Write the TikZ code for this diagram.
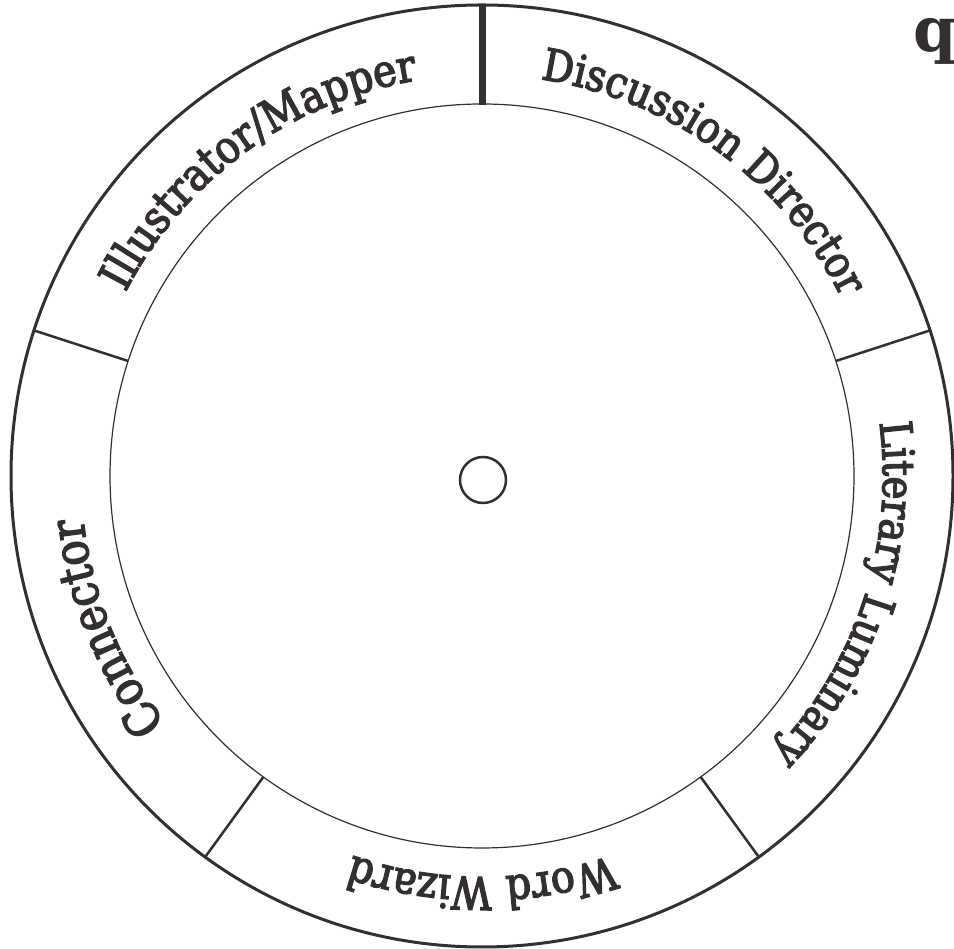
\documentclass[tikz,border=0pt]{standalone}
\usepackage{fontspec}
\setmainfont{DejaVu Serif}
\newfontfamily\lbl[FakeStretch=0.88,FakeBold=3]{DejaVu Serif}
\usetikzlibrary{decorations.text}
\definecolor{ink}{RGB}{52,47,47}
\begin{document}
\begin{tikzpicture}[x=1pt,y=1pt,
  ring/.style={draw=ink, line width=#1},
  divider/.style={draw=ink, line width=2.5},
]
\useasboundingbox (0,0) rectangle (954,949);
\fill[white] (0,0) rectangle (954,949);
\coordinate (c) at (482,473);
\draw[ring=3] (c) circle[radius=471];
\draw[ring=1.2] (c) circle[radius=372];
\node[draw=ink, line width=2.5, circle, minimum size=46, inner sep=0] (hub) at (483,469) {};
% dividers
\draw[draw=ink, line width=7] ([shift={(90:371)}]c) -- ([shift={(90:472)}]c);
\foreach \a in {18,162,234,306}
  \draw[divider] ([shift={(\a:372)}]c) -- ([shift={(\a:471)}]c);
% labels
\path[decorate, decoration={text along path, text align=center, text color=ink,
   text={|\lbl\fontsize{44}{44}\selectfont|Discussion Director}}]
   ([shift={(90:401)}]c) arc[start angle=90, end angle=18, radius=401];
\path[decorate, decoration={text along path, text align=center, text color=ink,
   text={|\lbl\fontsize{45}{45}\selectfont|Illustrator/Mapper}}]
   ([shift={(162:401)}]c) arc[start angle=162, end angle=90, radius=401];
\path[decorate, decoration={text along path, text align=center, text color=ink,
   text={|\lbl\fontsize{48}{48}\selectfont|Connector}}]
   ([shift={(238:401)}]c) arc[start angle=238, end angle=166, radius=401];
\path[decorate, decoration={text along path, text align=center, text color=ink,
   text={|\lbl\fontsize{45}{45}\selectfont|Word Wizard}}]
   ([shift={(306:401)}]c) arc[start angle=306, end angle=234, radius=401];
\path[decorate, decoration={text along path, text align=center, text color=ink,
   text={|\lbl\fontsize{44}{44}\selectfont|Literary Luminary}}]
   ([shift={(18:401)}]c) arc[start angle=18, end angle=-54, radius=401];
% cut-off glyph at top right
\node[anchor=base west, inner sep=0, text=ink, font=\bfseries\fontsize{62}{62}\selectfont] (q) at (913,897) {q};
\end{tikzpicture}
\end{document}
